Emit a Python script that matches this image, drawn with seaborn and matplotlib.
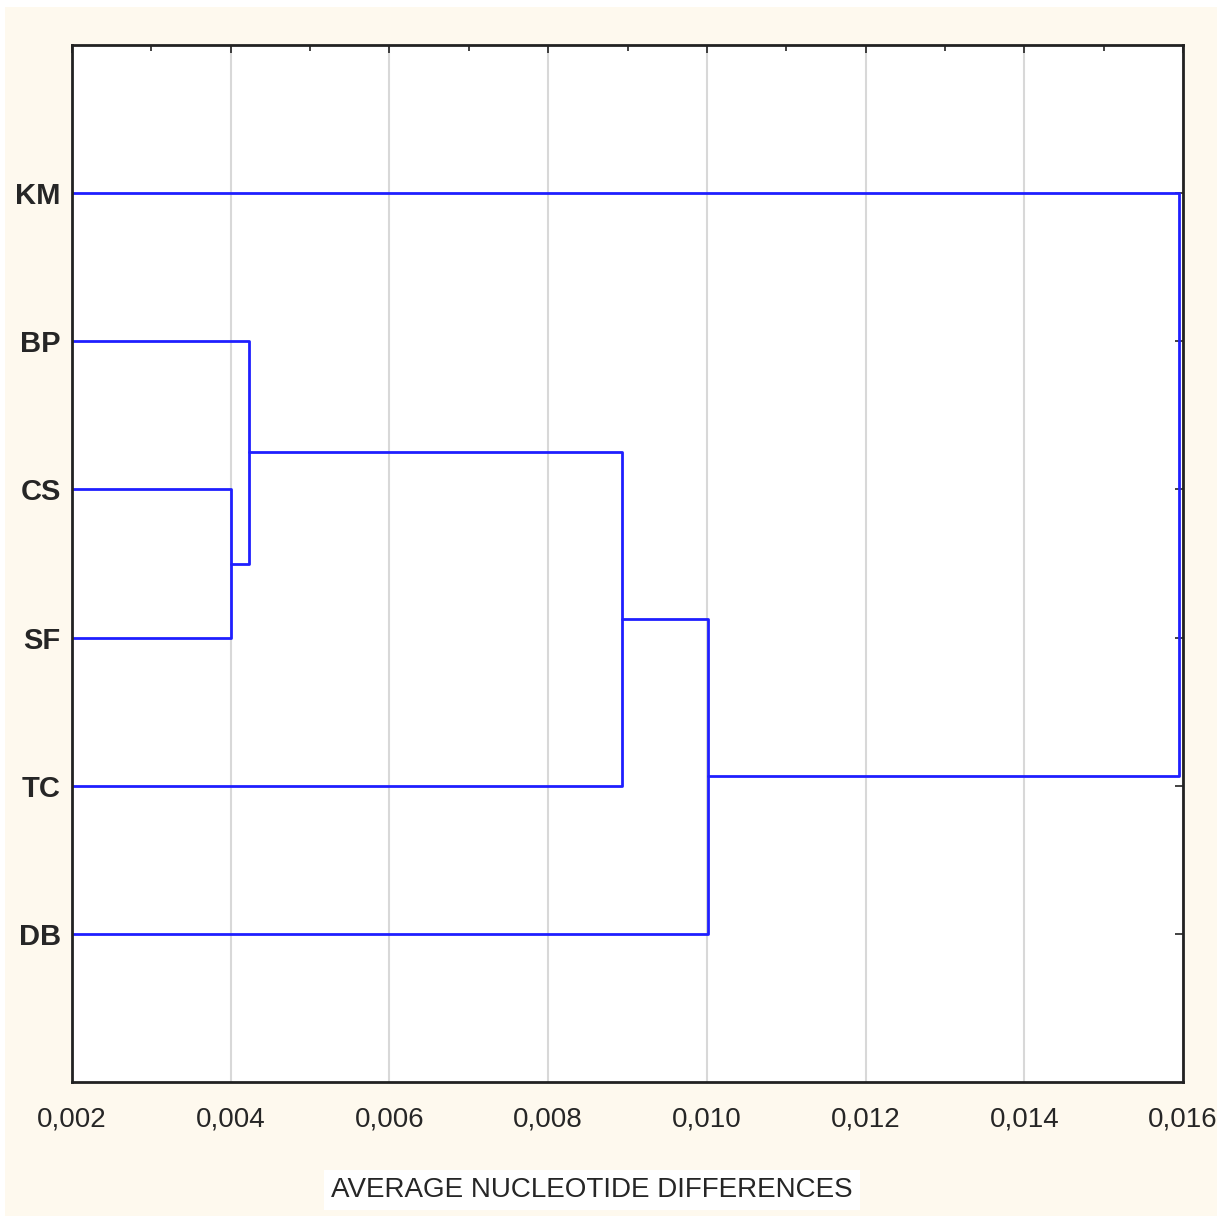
import pandas as pd
import matplotlib as mpl
import matplotlib.pyplot as plt
import matplotlib.ticker as mticker
from matplotlib.patches import Rectangle
import seaborn as sns

# Leaves from top to bottom and the linkage
leaves = ['KM', 'BP', 'CS', 'SF', 'TC', 'DB']
merge_left = ['CS', 'BP', 'C2', 'C3', 'C4']
merge_right = ['SF', 'C1', 'TC', 'DB', 'KM']
merge_height = [0.00400, 0.00423, 0.00893, 0.01001, 0.01595]
x_ticks = [0.002, 0.004, 0.006, 0.008, 0.010, 0.012, 0.014, 0.016]

# Build the dendrogram segments (U shapes) from the linkage
pos = {name: i + 1 for i, name in enumerate(leaves)}
height = {name: 0.0 for name in leaves}
rows = []
for k, (a, b, h) in enumerate(zip(merge_left, merge_right, merge_height)):
    cname = f'C{k + 1}'
    pts = [(height[a], pos[a]), (h, pos[a]), (h, pos[b]), (height[b], pos[b])]
    for order, (x, y) in enumerate(pts):
        rows.append({'link': cname, 'order': order, 'x': x, 'y': y})
    pos[cname] = (pos[a] + pos[b]) / 2
    height[cname] = h
df = pd.DataFrame(rows)

sns.set_style('white')
plt.rcParams['font.family'] = ['Liberation Sans Narrow', 'Liberation Sans', 'DejaVu Sans']
cream = '#fef9ee'

fig = plt.figure(figsize=(12.27, 12.16), dpi=100, facecolor='white')
fig.add_artist(Rectangle((5 / 1227, 0), 1212 / 1227, 1209 / 1216,
                         transform=fig.transFigure, facecolor=cream,
                         edgecolor='none', zorder=-10))
ax = fig.add_axes([72 / 1227, 1 - 1082 / 1216, 1111 / 1227, 1037 / 1216])
ax.set_facecolor('white')

sns.lineplot(data=df, x='x', y='y', units='link', estimator=None, sort=False,
             color='#1f1fff', linewidth=2, ax=ax, legend=False)

ax.set_xlim(0.002, 0.016)
ax.set_ylim(7, 0)
ax.set_xticks(x_ticks)
ax.xaxis.set_minor_locator(mticker.MultipleLocator(0.001))
ax.set_xticklabels([f'{t:.3f}'.replace('.', ',') for t in x_ticks], fontsize=20)
ax.set_yticks(range(1, len(leaves) + 1))
ax.set_yticklabels(leaves, fontsize=21, fontweight='bold')
ax.grid(True, axis='x', color='#d8d8d8', linewidth=1.5)
ax.tick_params(axis='both', which='both', direction='in', top=True, right=True,
               color='#222222', width=1.2)
ax.tick_params(axis='both', which='major', length=6)
ax.tick_params(axis='x', which='minor', length=4)
ax.tick_params(axis='x', which='major', pad=18)
ax.tick_params(axis='y', which='major', pad=8)
for side in ax.spines.values():
    side.set_color('#222222')
    side.set_linewidth(2)

ax.set_xlabel('AVERAGE NUCLEOTIDE DIFFERENCES', fontsize=20,
              bbox=dict(facecolor='white', edgecolor='none', pad=5))
ax.xaxis.set_label_coords(0.468, -0.104)
ax.xaxis.label.set_va('center')
ax.set_ylabel('')

plt.savefig('out.png', dpi=100, facecolor=fig.get_facecolor())
